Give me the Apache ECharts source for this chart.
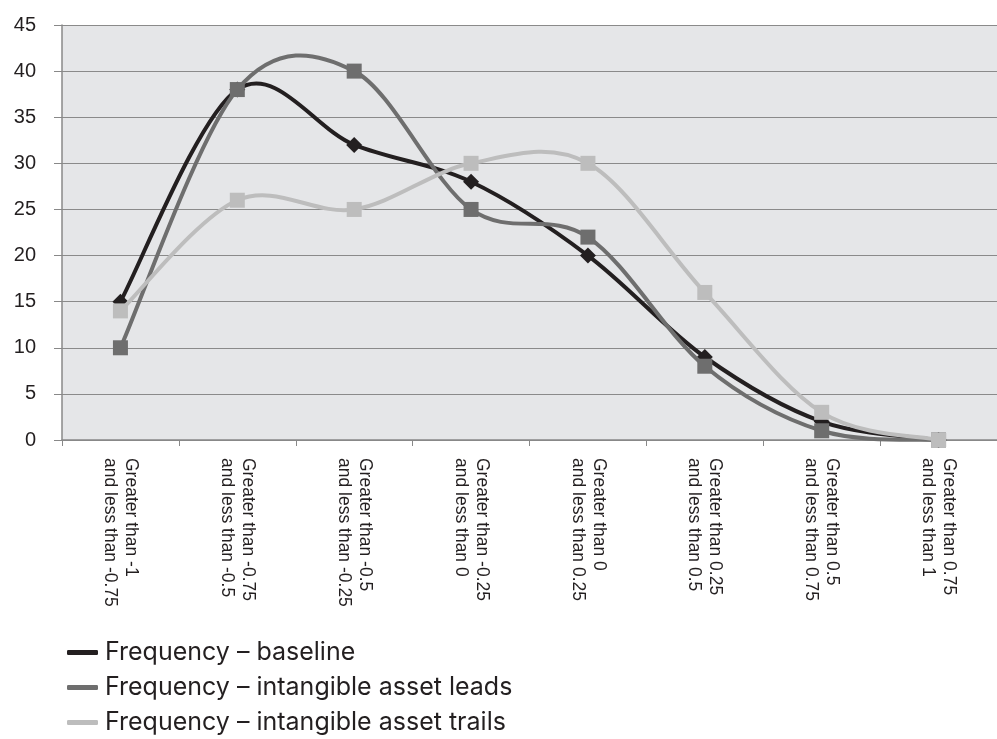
<!DOCTYPE html>
<html><head><meta charset="utf-8">
<script src="https://cdn.jsdelivr.net/npm/echarts@6/dist/echarts.min.js"></script>
<style>html,body{margin:0;padding:0;background:#fff}#c{width:997px;height:739px}</style>
</head><body><div id="c"></div>
<script>
const categories = [
  'Greater than -1\nand less than -0.75',
  'Greater than -0.75\nand less than -0.5',
  'Greater than -0.5\nand less than -0.25',
  'Greater than -0.25\nand less than 0',
  'Greater than 0\nand less than 0.25',
  'Greater than 0.25\nand less than 0.5',
  'Greater than 0.5\nand less than 0.75',
  'Greater than 0.75\nand less than 1'
];
const baseline = [15, 38, 32, 28, 20, 9, 2, 0];
const leads = [10, 38, 40, 25, 22, 8, 1, 0];
const trails = [14, 26, 25, 30, 30, 16, 3, 0];
const yTicks = { min: 0, max: 45, interval: 5 };
const seriesNames = ['Frequency – baseline', 'Frequency – intangible asset leads', 'Frequency – intangible asset trails'];
const colors = ['#231f20', '#6e6e6e', '#bdbdbd'];

const chart = echarts.init(document.getElementById('c'));
const font = 'Liberation Sans, Arial, sans-serif';

// Excel-like smoothed curve (Catmull-Rom Bezier), each segment mapped through the axes
function curve(values, color, z) {
  return {
    type: 'custom', z, silent: true,
    data: values.map((v, i) => [i, v]),
    encode: { x: 0, y: 1 },
    renderItem: function (params, api) {
      const i = params.dataIndex;
      if (i >= values.length - 1) return null;
      const p = k => api.coord([Math.max(0, Math.min(values.length - 1, k)), values[Math.max(0, Math.min(values.length - 1, k))]]);
      const p0 = p(i - 1), p1 = p(i), p2 = p(i + 1), p3 = p(i + 2);
      const c1 = [p1[0] + (p2[0] - p0[0]) / 6, p1[1] + (p2[1] - p0[1]) / 6];
      const c2 = [p2[0] - (p3[0] - p1[0]) / 6, p2[1] - (p3[1] - p1[1]) / 6];
      return {
        type: 'bezierCurve',
        shape: { x1: p1[0], y1: p1[1], cpx1: c1[0], cpy1: c1[1], cpx2: c2[0], cpy2: c2[1], x2: p2[0], y2: p2[1] },
        style: { stroke: color, lineWidth: 4, fill: null, lineCap: 'round' }
      };
    }
  };
}
function markers(name, data, color, symbol, size, z) {
  return {
    name, type: 'line', data, z,
    symbol, symbolSize: size, showAllSymbol: true,
    lineStyle: { color, width: 0, opacity: 0 },
    itemStyle: { color, borderWidth: 0 },
    emphasis: { disabled: true }
  };
}
chart.setOption({
  animation: false,
  textStyle: { fontFamily: font },
  grid: { left: 62, right: -11, top: 25, bottom: 299, show: true, backgroundColor: '#e5e6e8', borderWidth: 0 },
  legend: {
    orient: 'vertical', left: 67, top: 640, itemGap: 10, padding: 0,
    itemWidth: 31, itemHeight: 5, icon: 'roundRect',
    textStyle: { fontSize: 25, color: '#231f20', fontFamily: 'Inter, Liberation Sans, sans-serif', padding: [0, 0, 0, 2] },
    data: seriesNames.map((n, i) => ({ name: n, itemStyle: { color: colors[i], opacity: 1 } }))
  },
  xAxis: {
    type: 'category', data: categories, boundaryGap: true,
    axisLine: { show: true, lineStyle: { color: '#888', width: 1.5 } },
    axisTick: { show: true, length: 6, lineStyle: { color: '#888' } },
    axisLabel: { rotate: -90, fontSize: 17.5, color: '#231f20', lineHeight: 21, margin: 18, fontFamily: font, interval: 0 }
  },
  yAxis: {
    type: 'value', min: yTicks.min, max: yTicks.max, interval: yTicks.interval,
    axisLine: { show: true, lineStyle: { color: '#888', width: 1.5 } },
    axisTick: { show: true, length: 8, lineStyle: { color: '#888' } },
    splitLine: { show: true, lineStyle: { color: '#8a8a8a', width: 1.2 } },
    axisLabel: { fontSize: 20, color: '#231f20', margin: 26, fontFamily: font }
  },
  series: [
    curve(baseline, colors[0], 2),
    markers(seriesNames[0], baseline, colors[0], 'diamond', 16, 3),
    curve(leads, colors[1], 4),
    markers(seriesNames[1], leads, colors[1], 'rect', 15, 5),
    curve(trails, colors[2], 6),
    markers(seriesNames[2], trails, colors[2], 'rect', 15, 7)
  ]
});
</script></body></html>
